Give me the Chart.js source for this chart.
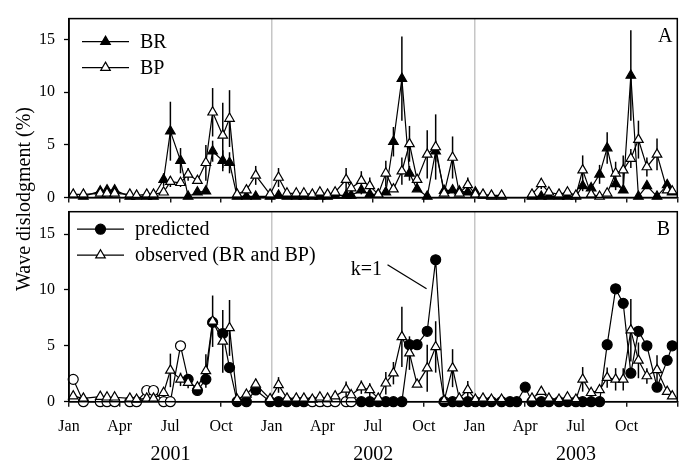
<!DOCTYPE html>
<html>
<head>
<meta charset="utf-8">
<script src="https://cdn.jsdelivr.net/npm/chart.js@4/dist/chart.umd.min.js"></script>
<style>
html,body{margin:0;padding:0;background:#fff;}
#wrap{position:relative;width:684px;height:465px;overflow:hidden;}
canvas{position:absolute;left:0;top:0;}
</style>
</head>
<body>
<div id="wrap">
<canvas id="cA" width="684" height="465"></canvas>
<canvas id="cB" width="684" height="465"></canvas>
</div>
<script>
// ---- DATA (x = months since 1 Jan 2001) ----
const sampleMonths = [0.25,0.85,1.85,2.25,2.7,3.6,4.0,4.6,5.0,5.6,6.0,6.6,7.05,7.6,8.1,8.5,9.1,9.5,9.95,10.5,
  11.05,11.9,12.4,12.9,13.45,13.9,14.4,14.85,15.3,15.75,16.4,16.7,17.3,17.8,18.3,18.75,19.2,19.7,20.15,20.6,
  21.2,21.7,22.2,22.7,23.1,23.6,24.05,24.5,25.0,25.6,26.1,26.5,27.0,27.4,27.95,28.4,29.0,29.5,30.0,30.4,
  30.9,31.4,31.85,32.35,32.8,33.25,33.7,34.2,34.8,35.4,35.7];

// Panel A
const brValues = [null,0.1,0.6,0.7,0.7,0.1,0.1,0.1,0.1,1.7,6.3,3.5,0.1,0.5,0.6,4.4,3.5,3.3,0.1,0.1,
  0.1,0.1,0.2,0.1,0.1,0.1,0.1,0.1,0.1,0.2,0.2,0.2,0.7,0.3,0.3,0.5,5.3,11.3,2.3,0.8,
  0.1,4.4,0.65,0.7,0.6,0.5,0.5,0.2,0.1,0.1,null,null,null,0.1,0.1,0.1,0.1,0.1,0.1,1.1,
  0.9,2.2,4.7,1.3,0.7,11.6,0.1,1.1,0.1,1.2,0.5];
const brErrors = [0,0,0,0,0,0,0,0,0,0.6,2.8,1.2,0,0,0,1.0,1.0,1.0,0,0,
  0,0,0,0,0,0,0,0,0,0,0,0,0.4,0,0,0,1.4,4.0,0.7,0,
  0,1.0,0,0,0,0,0,0,0,0,0,0,0,0,0,0,0,0,0,0.5,
  0,0.9,1.5,0.6,0,4.3,0,0,0,0.4,0];
const bpValues = [0.3,0.3,0.4,0.4,0.4,0.3,0.2,0.3,0.3,0.5,1.5,1.4,2.2,1.6,3.3,8.1,5.9,7.5,0.3,0.7,
  2.1,0.3,1.9,0.4,0.4,0.4,0.3,0.5,0.3,0.5,1.7,0.9,1.6,1.1,0.3,2.3,0.8,2.5,5.1,1.7,
  4.1,4.8,0.4,3.8,0.4,1.2,0.3,0.3,0.2,0.2,null,null,null,0.3,1.3,0.5,0.3,0.5,0.2,2.6,
  0.3,0.1,0.4,2.3,2.6,3.7,5.5,2.9,4.1,0.7,0.6];
const bpErrors = [0,0,0,0,0,0,0,0,0,0,0.5,0.4,0.6,0,1.7,2.3,3.1,2.7,0,0,
  0.9,0,0.9,0,0,0,0,0,0,0,1.1,0,0.9,0.8,0,1.2,0,1.3,1.7,0.5,
  2.3,3.1,0,2.0,0,0.7,0,0,0,0,0,0,0,0,0.5,0,0,0,0,1.4,
  0,0,0,1.1,1.4,0.9,1.8,0.9,1.5,0,0];

// Panel B
const predictedValues = [2.0,0,0,0,0,0,0,1.0,1.0,0,0,5.0,2.0,1.0,2.0,7.1,6.1,3.05,0,0,
  1.05,0,0,0,0,0,0,0,0,0,0,0,0,0,0,0,0,0,5.1,5.1,
  6.3,12.7,0,0,0,0,0,0,0,0,0,0,1.3,0,0,0,0,0,0,0,
  0,0,5.1,10.1,8.8,2.55,6.3,5.0,1.3,3.7,5.0];
const predictedOpen = [1,1,1,1,1,1,1,1,1,1,1,1,0,0,0,0,0,0,0,0,
  0,0,0,0,0,0,1,1,1,1,1,1,0,0,0,0,0,0,0,0,
  0,0,0,0,0,0,0,0,0,0,0,0,0,0,0,0,0,0,0,0,
  0,0,0,0,0,0,0,0,0,0,0];
const observedValues = [0.5,0.3,0.45,0.4,0.4,0.3,0.2,0.3,0.3,0.8,2.8,2.0,1.7,1.3,2.75,7.2,5.4,6.6,0.2,0.65,
  1.55,0.25,1.5,0.3,0.3,0.3,0.2,0.4,0.3,0.5,1.1,0.6,1.3,1.05,0.3,1.65,2.55,5.8,4.35,1.55,
  3.0,4.9,0.1,3.0,0.3,1.05,0.2,0.3,0.2,0.2,null,null,null,0.3,0.9,0.3,0.2,0.4,0.2,2.0,
  0.8,1.05,2.15,2.0,2.0,6.4,3.7,2.3,2.85,0.9,0.5];
const observedErrors = [0,0,0,0,0,0,0,0,0,0,1.5,0.6,0.5,0,1.5,2.3,2.8,2.5,0,0,
  0.5,0,0.7,0,0,0,0,0,0,0,0.7,0,0.6,0.6,0,1.0,1.0,2.7,1.5,0,
  2.1,2.3,0,1.7,0,0.8,0,0,0,0,0,0,0,0,0,0,0,0,0,1.1,
  0,0,0.9,1.0,1.0,2.8,1.6,0.7,1.3,0,0];

// Axes
const xTickMonths = [0,3,6,9,12,15,18,21,24,27,30,33,36];
const monthLabels = ['Jan','Apr','Jul','Oct'];
const yearBoundaries = [12,24];
const yearLabels = ['2001','2002','2003'];
const yearCenters = [6,18,30];
const yTickValues = [0,5,10,15];
const legendLabelsA = ['BR','BP'];
const legendLabelsB = ['predicted','observed (BR and BP)'];
const yAxisTitle = 'Wave dislodgment (%)';
const annotationText = 'k=1';

// ---- RENDERING ----
const SERIF = "'Liberation Serif', 'Times New Roman', Times, serif";
const W = 684, H = 465;

function pts(vals){ return sampleMonths.map((m,i)=>({x:m, y:vals[i]})); }

function drawMarker(ctx, style, r, x, y, fill){
  ctx.save();
  ctx.fillStyle = fill; ctx.strokeStyle = '#000'; ctx.lineWidth = 1.2;
  ctx.beginPath();
  if (style === 'triangle') {
    ctx.moveTo(x, y - r);
    ctx.lineTo(x + r*Math.sin(Math.PI*2/3), y - r*Math.cos(Math.PI*2/3));
    ctx.lineTo(x - r*Math.sin(Math.PI*2/3), y - r*Math.cos(Math.PI*2/3));
    ctx.closePath();
  } else {
    ctx.arc(x, y, r, 0, Math.PI*2);
  }
  ctx.fill(); ctx.stroke();
  ctx.restore();
}

const errorBarPlugin = {
  id: 'errorBars',
  beforeDatasetsDraw(chart){
    const ctx = chart.ctx, xs = chart.scales.x, ys = chart.scales.y;
    chart.data.datasets.forEach(ds => {
      if (!ds.errors) return;
      ctx.save(); ctx.strokeStyle = '#000'; ctx.lineWidth = 1.5;
      ds.data.forEach((p,i) => {
        const e = ds.errors[i];
        if (!e || p.y == null) return;
        const x = xs.getPixelForValue(p.x);
        ctx.beginPath();
        ctx.moveTo(x, ys.getPixelForValue(Math.max(0, p.y - e)));
        ctx.lineTo(x, ys.getPixelForValue(p.y + e));
        ctx.stroke();
      });
      ctx.restore();
    });
  }
};

const decorPlugin = {
  id: 'decor',
  afterDraw(chart, args, opts){
    const ctx = chart.ctx, a = chart.chartArea, xs = chart.scales.x, ys = chart.scales.y;
    ctx.save();
    // frame
    ctx.strokeStyle = '#000'; ctx.lineWidth = 1.5;
    ctx.strokeRect(a.left, a.top, a.right - a.left, a.bottom - a.top);
    // panel letter
    ctx.fillStyle = '#000';
    ctx.font = '20px ' + SERIF;
    ctx.textAlign = 'center'; ctx.textBaseline = 'middle';
    ctx.fillText(opts.letter, a.right - opts.letterDx, a.top + 18);
    // legend
    const ds = chart.data.datasets;
    opts.legend.forEach((item, k) => {
      const d = ds[item.ds];
      const y = a.top + opts.legendY0 + k * 26;
      ctx.strokeStyle = '#000'; ctx.lineWidth = 1.2;
      ctx.beginPath(); ctx.moveTo(opts.legendX0, y); ctx.lineTo(opts.legendX0 + 47, y); ctx.stroke();
      drawMarker(ctx, d.pointStyle, d.pointRadius, opts.legendX0 + 23.5, y, item.fill);
      ctx.fillStyle = '#000';
      ctx.font = '20px ' + SERIF;
      ctx.textAlign = 'left'; ctx.textBaseline = 'middle';
      ctx.fillText(item.text, opts.legendX0 + 58, y + 1);
    });
    if (opts.extra) opts.extra(ctx, a, xs, ys);
    ctx.restore();
  }
};

function makeOptions(top, bottom, showLabels, decor){
  return {
    responsive: false, animation: false, devicePixelRatio: 1,
    layout: { padding: { top: top, right: 6, left: 0, bottom: 0 } },
    plugins: { legend: { display: false }, tooltip: { enabled: false }, decor: decor },
    elements: { line: { tension: 0 } },
    scales: {
      x: {
        type: 'linear', min: 0, max: 36,
        afterBuildTicks: s => { s.ticks = xTickMonths.map(v => ({ value: v })); },
        afterFit: s => { s.height = H - bottom; s.paddingLeft = 0; s.paddingRight = 0; },
        grid: {
          drawOnChartArea: true, drawTicks: true, tickLength: 5, tickWidth: 1.3, tickColor: '#000',
          lineWidth: 1.5,
          color: c => (c.tick && yearBoundaries.includes(c.tick.value)) ? '#c6c6c6' : 'rgba(0,0,0,0)'
        },
        border: { display: true, color: '#000', width: 1.5 },
        ticks: {
          display: showLabels, color: '#000', font: { family: SERIF, size: 16 }, padding: 10,
          maxRotation: 0, autoSkip: false,
          callback: (v, i) => (v >= 36 ? '' : monthLabels[i % 4])
        }
      },
      y: {
        type: 'linear', min: 0, max: 17,
        afterBuildTicks: s => { s.ticks = yTickValues.map(v => ({ value: v })); },
        afterFit: s => { s.width = 69; },
        grid: { drawOnChartArea: false, drawTicks: true, tickLength: 5, tickWidth: 1.3, tickColor: '#000' },
        border: { display: true, color: '#000', width: 1.5 },
        ticks: { color: '#000', font: { family: SERIF, size: 16 }, padding: 9 }
      }
    }
  };
}

// Panel A
new Chart(document.getElementById('cA'), {
  type: 'line',
  data: {
    datasets: [
      { label: legendLabelsA[0], data: pts(brValues), errors: brErrors, order: 1,
        borderColor: '#000', borderWidth: 1.2, pointStyle: 'triangle', pointRadius: 5.5,
        pointBackgroundColor: '#000', pointBorderColor: '#000', pointBorderWidth: 1.2,
        spanGaps: false, clip: 12 },
      { label: legendLabelsA[1], data: pts(bpValues), errors: bpErrors, order: 0,
        borderColor: '#000', borderWidth: 1.2, pointStyle: 'triangle', pointRadius: 5.5,
        pointBackgroundColor: '#fff', pointBorderColor: '#000', pointBorderWidth: 1.2,
        spanGaps: false, clip: 12 }
    ]
  },
  options: makeOptions(9, 197.5, false, {
    letter: 'A', letterDx: 12, legendX0: 82, legendY0: 23,
    legend: [ { ds: 0, text: legendLabelsA[0], fill: '#000' }, { ds: 1, text: legendLabelsA[1], fill: '#fff' } ]
  }),
  plugins: [errorBarPlugin, decorPlugin]
});

// Panel B
new Chart(document.getElementById('cB'), {
  type: 'line',
  data: {
    datasets: [
      { label: legendLabelsB[0], data: pts(predictedValues), order: 1,
        borderColor: '#000', borderWidth: 1.2, pointStyle: 'circle', pointRadius: 5,
        pointBackgroundColor: predictedOpen.map(o => o ? '#fff' : '#000'),
        pointBorderColor: '#000', pointBorderWidth: 1.2, spanGaps: false, clip: 12 },
      { label: legendLabelsB[1], data: pts(observedValues), errors: observedErrors, order: 0,
        borderColor: '#000', borderWidth: 1.2, pointStyle: 'triangle', pointRadius: 5.5,
        pointBackgroundColor: '#fff', pointBorderColor: '#000', pointBorderWidth: 1.2,
        spanGaps: false, clip: 12 }
    ]
  },
  options: makeOptions(211.7, 401.7, true, {
    letter: 'B', letterDx: 14, legendX0: 77, legendY0: 17.5,
    legend: [ { ds: 0, text: legendLabelsB[0], fill: '#000' }, { ds: 1, text: legendLabelsB[1], fill: '#fff' } ],
    extra: (ctx, a, xs, ys) => {
      // annotation k=1
      ctx.fillStyle = '#000';
      ctx.font = '20px ' + SERIF;
      ctx.textAlign = 'center'; ctx.textBaseline = 'middle';
      ctx.fillText(annotationText, xs.getPixelForValue(17.6), ys.getPixelForValue(11.8));
      ctx.strokeStyle = '#000'; ctx.lineWidth = 1.3;
      ctx.beginPath();
      ctx.moveTo(xs.getPixelForValue(18.85), ys.getPixelForValue(12.25));
      ctx.lineTo(xs.getPixelForValue(21.16), ys.getPixelForValue(10.1));
      ctx.stroke();
      // year labels
      ctx.font = '20px ' + SERIF;
      yearLabels.forEach((t, i) => ctx.fillText(t, xs.getPixelForValue(yearCenters[i]), 455));
      // shared y-axis title
      ctx.save();
      ctx.translate(25, 199);
      ctx.rotate(-Math.PI / 2);
      ctx.fillText(yAxisTitle, 0, 0);
      ctx.restore();
    }
  }),
  plugins: [errorBarPlugin, decorPlugin]
});
</script>
</body>
</html>
